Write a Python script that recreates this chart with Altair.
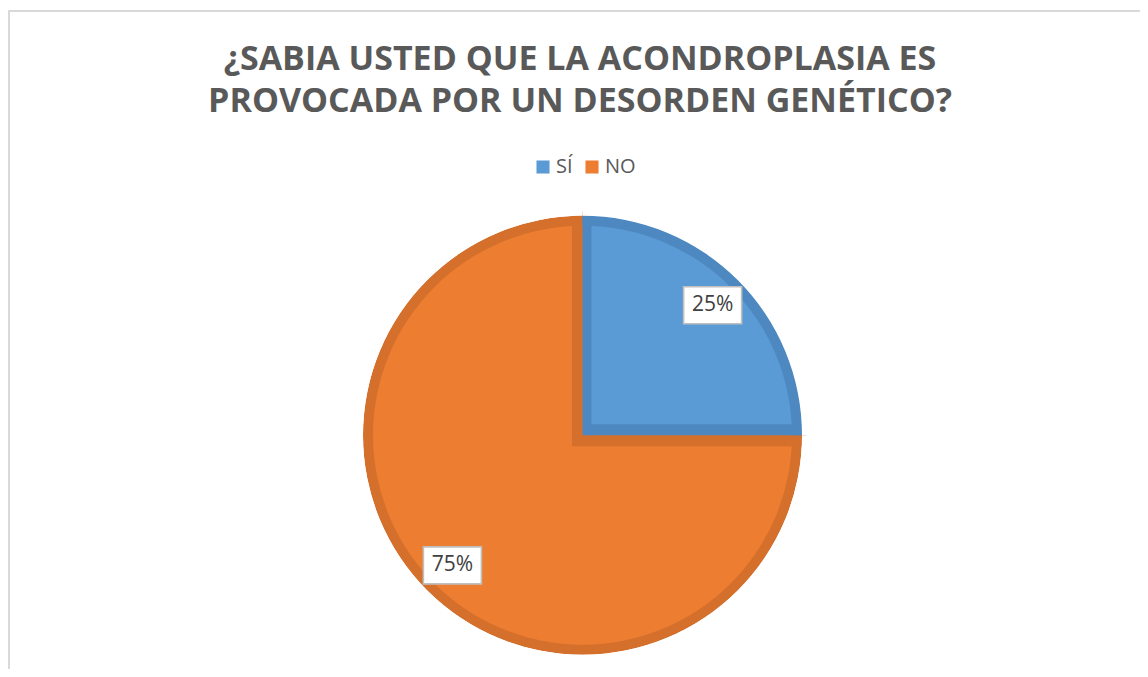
import math
import altair as alt
import pandas as pd

CATEGORIES = ["SÍ", "NO"]
VALUES = [25, 75]
LABELS = ["25%", "75%"]
TITLE_LINES = ["¿SABIA USTED QUE LA ACONDROPLASIA ES", "PROVOCADA POR UN DESORDEN GENÉTICO?"]

LIGHT = ["#5b9bd5", "#ed7d31"]
DARK = ["#4e88c0", "#d4702c"]

W, H = 1132, 661
CX, CY = 574.5, 427.3
R = 219.5
BAND = 10
LABEL_R = 184

df = pd.DataFrame({"cat": CATEGORIES, "value": VALUES, "label": LABELS, "order": list(range(len(CATEGORIES)))})

base = (
    alt.Chart(df)
    .transform_joinaggregate(total="sum(value)")
    .transform_window(cum="sum(value)", sort=[alt.SortField("order")])
    .transform_calculate(
        t0="(datum.cum - datum.value) / datum.total",
        t1="datum.cum / datum.total",
    )
)

theta_scale = alt.Scale(domain=[0, 1], range=[0, 2 * math.pi])


def arc(r, r2=0, color=None, dx=0.0, dy=0.0, only=None, color_enc=None):
    c = base
    if only is not None:
        c = c.transform_filter(alt.datum.cat == only)
    kw = dict(radius=r, radius2=r2)
    if color is not None:
        kw["color"] = color
    enc = dict(
        theta=alt.Theta("t0:Q", scale=theta_scale),
        theta2="t1:Q",
        x=alt.value(CX + dx),
        y=alt.value(CY + dy),
    )
    if color_enc is not None:
        enc["color"] = color_enc
    return c.mark_arc(**kw).encode(**enc)


legend = alt.Legend(
    title=None,
    orient="none",
    legendX=525,
    legendY=149,
    direction="horizontal",
    symbolType="square",
    symbolSize=170,
    symbolStrokeWidth=0,
    labelFont="Open Sans",
    labelFontSize=20,
    labelColor="#595959",
    labelOffset=3,
    columnPadding=9,
)

layers = [
    arc(R, color=DARK[1]),
    arc(R - BAND, color_enc=alt.Color("cat:N", scale=alt.Scale(domain=CATEGORIES, range=LIGHT), legend=legend)),
    arc(235, color=DARK[1], dx=-10.5, dy=11, only=CATEGORIES[0]),
    arc(R, color=DARK[0], only=CATEGORIES[0]),
    arc(212, color=LIGHT[0], dx=9, dy=-11, only=CATEGORIES[0]),
    arc(R, R - BAND, color=DARK[0], only=CATEGORIES[0]),
    arc(234, R, color="white"),
]

xs = alt.Scale(domain=[0, W], range=[0, W], nice=False, zero=False)
ys = alt.Scale(domain=[0, H], range=[0, H], nice=False, zero=False)

lab = base.transform_calculate(
    mid="(datum.t0 + datum.t1) * PI",
).transform_calculate(
    lx=f"{CX} + {LABEL_R} * sin(datum.mid)",
    ly=f"{CY} - {LABEL_R} * cos(datum.mid)",
).transform_calculate(
    bx0="datum.lx - 29", bx1="datum.lx + 29", by0="datum.ly - 18.5", by1="datum.ly + 18.5"
)

boxes = lab.mark_rect(fill="white", stroke="#bfbfbf", strokeWidth=1.6).encode(
    x=alt.X("bx0:Q", scale=xs, axis=None),
    x2="bx1:Q",
    y=alt.Y("by0:Q", scale=ys, axis=None),
    y2="by1:Q",
)
texts = lab.mark_text(font="Open Sans", fontSize=21, color="#404040", baseline="middle", align="center").encode(
    x=alt.X("lx:Q", scale=xs, axis=None),
    y=alt.Y("ly:Q", scale=ys, axis=None),
    text="label:N",
)

title_layers = []
for i, line in enumerate(TITLE_LINES):
    title_layers.append(
        alt.Chart(pd.DataFrame({"t": [line]}))
        .mark_text(font="Open Sans", fontWeight="bold", fontSize=34, color="#595959", align="center", baseline="alphabetic")
        .encode(text="t:N", x=alt.value(572), y=alt.value(62 + i * 42))
    )

border_df = pd.DataFrame({"k": [0]})
border_top = alt.Chart(border_df).mark_rule(color="#d9d9d9", strokeWidth=2).encode(
    x=alt.value(0), x2=alt.value(W), y=alt.value(3)
)
border_left = alt.Chart(border_df).mark_rule(color="#d9d9d9", strokeWidth=2).encode(
    x=alt.value(1), y=alt.value(2), y2=alt.value(H)
)

chart = (
    alt.layer(border_top, border_left, *layers, boxes, texts, *title_layers)
    .resolve_scale(x="shared", y="shared", color="independent")
    .properties(width=W, height=H, padding=0, autosize=alt.AutoSizeParams(type="none"), background="white")
    .configure_view(stroke=None)
)

chart.save("out.html", embed_options={"renderer": "svg", "actions": False})
